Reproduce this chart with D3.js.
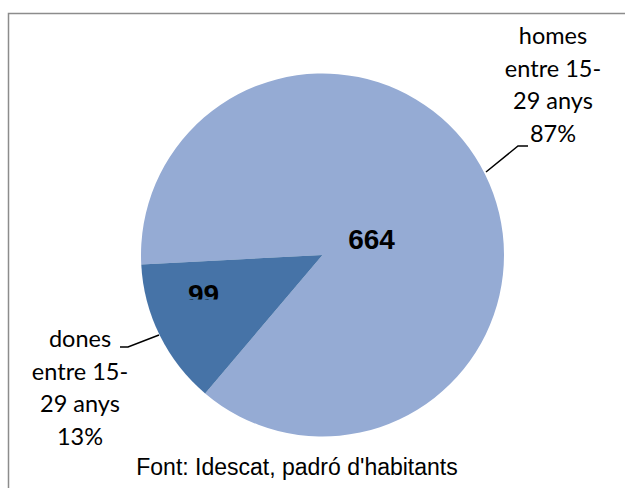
<!DOCTYPE html>
<html>
<head>
<meta charset="utf-8">
<script src="https://cdn.jsdelivr.net/npm/d3@7"></script>
<style>
  body { margin: 0; background: #fff; }
  svg { display: block; }
</style>
</head>
<body>
<script>
// data
var categories = ["homes entre 15-29 anys", "dones entre 15-29 anys"];
var values = [664, 99];
var labelLines = [["homes", "entre 15-", "29 anys"], ["dones", "entre 15-", "29 anys"]];
var colors = ["#95abd4", "#4673a7"];
var source = "Font: Idescat, padró d'habitants";

var W = 625, H = 488;
var cx = 322.5, cy = 255, R = 181.5;

var svg = d3.select("body").append("svg")
  .attr("width", W).attr("height", H);

// frame (right/bottom edges fall outside the picture)
svg.append("rect")
  .attr("x", 8.5).attr("y", 13.5)
  .attr("width", 700).attr("height", 600)
  .attr("fill", "#fff")
  .attr("stroke", "#8c8c8c")
  .attr("stroke-width", 1.5);

var total = d3.sum(values);
var pie = d3.pie().sort(null)
  .startAngle(-93 * Math.PI / 180)
  .endAngle(267 * Math.PI / 180);
var arcs = pie(values);
var arc = d3.arc().innerRadius(0).outerRadius(R);

var g = svg.append("g").attr("transform", "translate(" + cx + "," + cy + ")");

g.selectAll("path.slice").data(arcs).enter().append("path")
  .attr("class", "slice")
  .attr("d", arc)
  .attr("fill", function(d, i) { return colors[i]; });

// value labels (the small one is cut off at the bottom, as in the original)
var defs = svg.append("defs");
defs.append("clipPath").attr("id", "cut99")
  .append("rect").attr("x", -400).attr("y", -400).attr("width", 800).attr("height", 444.5);

var valueOffsets = [[49, -6], [-119, 49]];
g.selectAll("text.val").data(arcs).enter().append("text")
  .attr("class", "val")
  .attr("x", function(d, i) { return valueOffsets[i][0]; })
  .attr("y", function(d, i) { return valueOffsets[i][1]; })
  .attr("text-anchor", "middle")
  .attr("font-family", "Liberation Sans, Arial, sans-serif")
  .attr("font-weight", "bold")
  .attr("font-size", 28)
  .attr("fill", "#000")
  .attr("clip-path", function(d, i) { return i === 1 ? "url(#cut99)" : null; })
  .text(function(d) { return d.value; });

// outside category labels with leader lines
var fmt = d3.format(".0%");
var outLabels = [
  { x: 553, y: 44, line: [[486, 172], [518, 146], [528, 146]] },
  { x: 80, y: 347, line: [[159, 335], [128, 347], [120, 347]] }
];

arcs.forEach(function(d, i) {
  var o = outLabels[i];
  var lines = labelLines[i].concat([fmt(d.value / total)]);
  var t = svg.append("text")
    .attr("text-anchor", "middle")
    .attr("font-family", "Lato, 'Open Sans', sans-serif")
    .attr("font-size", 23.5)
    .attr("fill", "#000");
  lines.forEach(function(s, k) {
    t.append("tspan").attr("x", o.x).attr("y", o.y + k * 32.5).text(s);
  });
  svg.append("path")
    .attr("d", d3.line()(o.line))
    .attr("fill", "none")
    .attr("stroke", "#000")
    .attr("stroke-width", 1.5);
});

svg.append("text")
  .attr("x", 297).attr("y", 475)
  .attr("text-anchor", "middle")
  .attr("font-family", "Liberation Sans, Arial, sans-serif")
  .attr("font-size", 23)
  .attr("fill", "#000")
  .text(source);
</script>
</body>
</html>
